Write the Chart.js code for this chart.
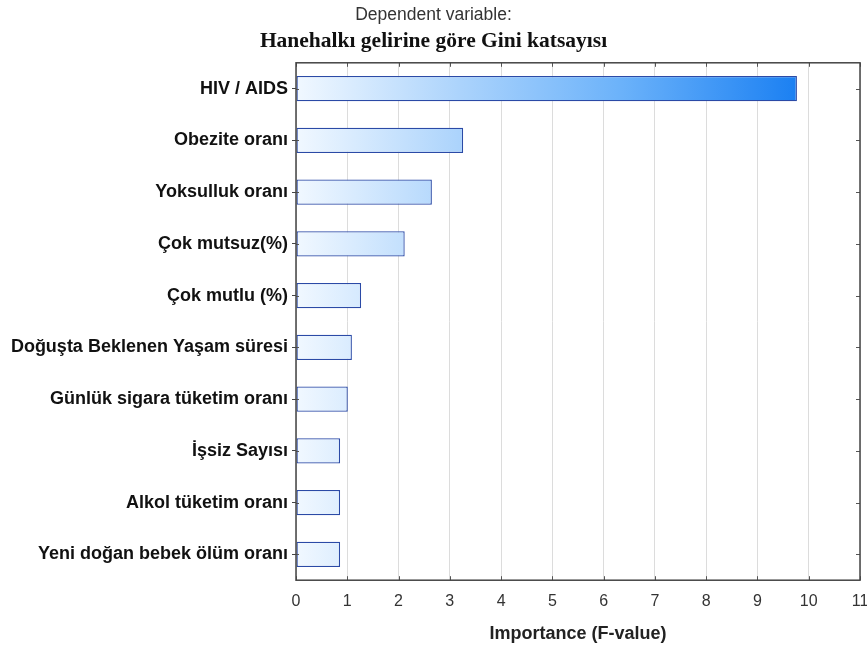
<!DOCTYPE html>
<html>
<head>
<meta charset="utf-8">
<script src="https://cdn.jsdelivr.net/npm/chart.js@4"></script>
<style>
html,body{margin:0;padding:0;background:#fff;}
#wrap{width:867px;height:645px;}
</style>
</head>
<body>
<div id="wrap"><canvas id="c" width="867" height="645"></canvas></div>
<script>
const categories = ["HIV / AIDS","Obezite oranı","Yoksulluk oranı","Çok mutsuz(%)","Çok mutlu (%)","Doğuşta Beklenen Yaşam süresi","Günlük sigara tüketim oranı","İşsiz Sayısı","Alkol tüketim oranı","Yeni doğan bebek ölüm oranı"];
const importance = [9.77, 3.26, 2.65, 2.12, 1.27, 1.09, 1.01, 0.86, 0.86, 0.86];
const xTicks = [0,1,2,3,4,5,6,7,8,9,10,11];
const titleLine1 = "Dependent variable:";
const titleLine2 = "Hanehalkı gelirine göre Gini katsayısı";
const xTitle = "Importance (F-value)";

function barGradient(ctx){
  const chart = ctx.chart;
  const area = chart.chartArea;
  if(!area) return '#9cc8f8';
  const xs = chart.scales.x;
  const x0 = xs.getPixelForValue(0);
  const x1 = xs.getPixelForValue(Math.max(...importance));
  const g = chart.ctx.createLinearGradient(x0,0,x1,0);
  g.addColorStop(0,'#f1f8ff');
  g.addColorStop(0.33,'#abd3fc');
  g.addColorStop(0.65,'#6bb2fa');
  g.addColorStop(1,'#1b80f2');
  return g;
}

const framePlugin = {
  id:'frame',
  afterDatasetsDraw(chart){
    const {ctx, chartArea:a, scales:{x,y}} = chart;
    ctx.save();
    ctx.strokeStyle='#555';
    ctx.lineWidth=1;
    xTicks.forEach(v=>{
      const px = Math.round(x.getPixelForValue(v))+0.5;
      ctx.beginPath();
      ctx.moveTo(px,a.top); ctx.lineTo(px,a.top+4);
      ctx.moveTo(px,a.bottom); ctx.lineTo(px,a.bottom-4);
      ctx.stroke();
    });
    categories.forEach((c,i)=>{
      const py = Math.round(y.getPixelForValue(i))+0.5;
      ctx.beginPath();
      ctx.moveTo(a.right,py); ctx.lineTo(a.right-4,py);
      ctx.moveTo(a.left,py); ctx.lineTo(a.left+3,py);
      ctx.stroke();
    });
    ctx.strokeStyle='#444';
    ctx.lineWidth=1.5;
    ctx.strokeRect(a.left,a.top,a.right-a.left,a.bottom-a.top);
    ctx.restore();
  }
};

new Chart(document.getElementById('c'),{
  type:'bar',
  data:{
    labels:categories,
    datasets:[{
      data:importance,
      backgroundColor:barGradient,
      borderColor:'#2b4aa6',
      borderWidth:1.3,
      borderSkipped:false,
      barPercentage:0.49,
      categoryPercentage:1
    }]
  },
  options:{
    indexAxis:'y',
    responsive:false,
    animation:false,
    devicePixelRatio:1,
    layout:{padding:{left:0,right:0,top:0,bottom:0}},
    plugins:{
      legend:{display:false},
      tooltip:{enabled:false},
      title:{display:true,text:titleLine1,color:'#333',font:{family:'Liberation Sans',size:17.5,weight:'normal'},padding:{top:4.5,bottom:0}},
      subtitle:{display:true,text:titleLine2,color:'#111',font:{family:'Liberation Serif',size:21.5,weight:'bold'},padding:{top:3.5,bottom:8}}
    },
    scales:{
      x:{
        type:'linear',min:0,max:11,
        afterBuildTicks(s){ s.ticks = xTicks.map(v=>({value:v})); },
        afterFit(s){ s.paddingRight = 7; },
        grid:{color:'#dcdcdc',lineWidth:1,drawTicks:false},
        border:{display:false},
        ticks:{color:'#333',padding:12,font:{family:'Liberation Sans',size:16}},
        title:{display:true,text:xTitle,color:'#222',font:{family:'Liberation Sans',size:18,weight:'bold'},padding:{top:0,bottom:0}}
      },
      y:{
        type:'category',
        afterFit(s){ s.width = 296; },
        grid:{display:true,drawOnChartArea:false,offset:false,tickLength:4,color:'#444'},
        border:{display:false},
        ticks:{color:'#111',padding:4,font:{family:'Liberation Sans',size:18,weight:'bold'}}
      }
    }
  },
  plugins:[framePlugin]
});
</script>
</body>
</html>
